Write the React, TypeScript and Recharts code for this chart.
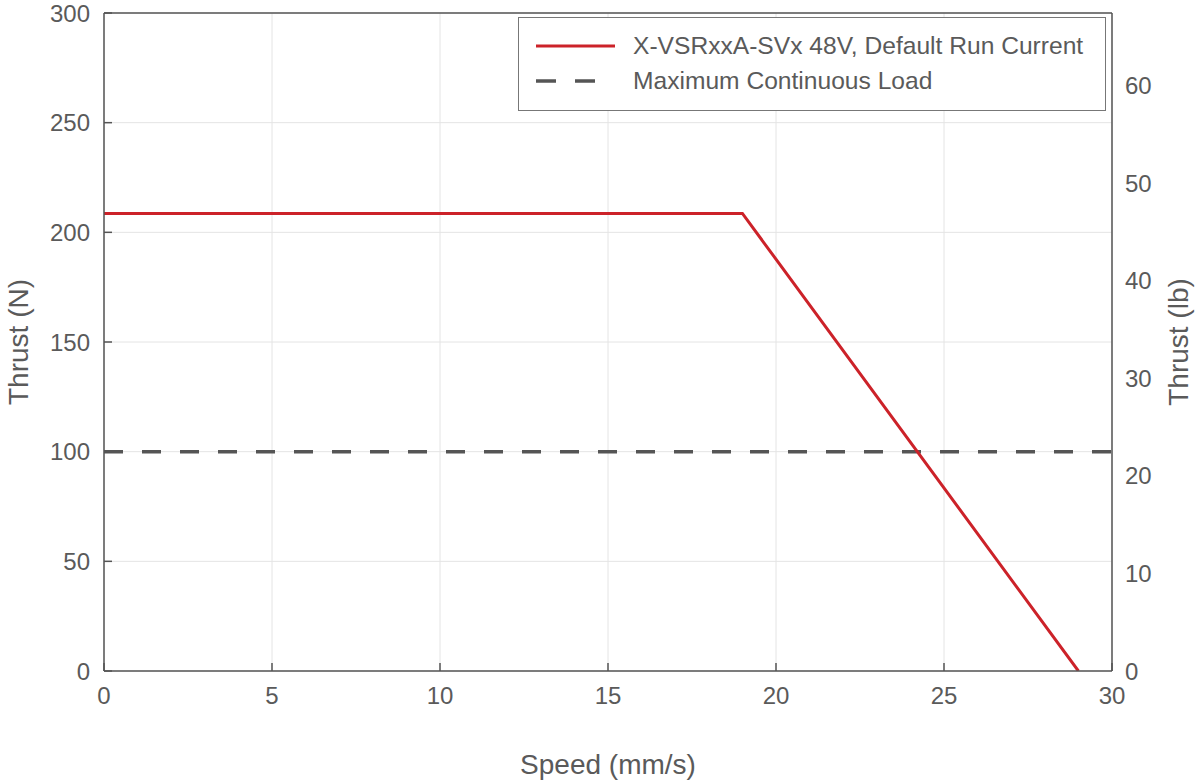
import React from 'react';
import { ComposedChart, Line, XAxis, YAxis, CartesianGrid, Legend, ReferenceLine, Label } from 'recharts';

// --- data ---
const xTicks = [0, 5, 10, 15, 20, 25, 30];
const yTicksN = [0, 50, 100, 150, 200, 250, 300];
const yTicksLb = [0, 10, 20, 30, 40, 50, 60];
const N_TO_LB = 0.224809;

const thrustCurve = [
    { speed: 0, thrust: 208.6 },
    { speed: 19, thrust: 208.6 },
    { speed: 29, thrust: 0 },
];
const maxContinuous = [
    { speed: 0, thrust: 100 },
    { speed: 30, thrust: 100 },
];

const RED = '#cc2229';
const GREY = '#555555';
const TEXT = '#5a5a5a';
const FONT = '"Liberation Sans", Arial, sans-serif';

const LegendBox = () => (
    <div
        style={{
            width: 588,
            height: 94,
            border: '1px solid #777',
            background: '#fff',
            boxSizing: 'border-box',
            fontFamily: FONT,
            fontSize: 24.6,
            color: TEXT,
            position: 'relative',
        }}
    >
        <svg width={100} height={94} style={{ position: 'absolute', left: 0, top: 0 }}>
            <line x1={17} y1={28} x2={96} y2={28} stroke={RED} strokeWidth={3} />
            <line x1={17} y1={63} x2={77} y2={63} stroke={GREY} strokeWidth={3.5} strokeDasharray="20 19" />
        </svg>
        <div style={{ position: 'absolute', left: 114, top: 14, whiteSpace: 'nowrap', lineHeight: '28px' }}>
            X-VSRxxA-SVx 48V, Default Run Current
        </div>
        <div style={{ position: 'absolute', left: 114, top: 49, whiteSpace: 'nowrap', lineHeight: '28px' }}>
            Maximum Continuous Load
        </div>
    </div>
);

export default function App() {
    const tickStyle = { fill: TEXT, fontSize: 24, fontFamily: FONT };
    const titleStyle = { fill: TEXT, fontSize: 28, fontFamily: FONT, textAnchor: 'middle' as const };
    return (
        <div style={{ position: 'fixed', left: 0, top: 0, width: 1195, height: 781, background: '#fff' }}>
            <ComposedChart width={1195} height={781} margin={{ top: 13, right: 0, bottom: 0, left: 0 }}>
                <CartesianGrid yAxisId="n" stroke="#e4e4e4" vertical horizontal />
                <XAxis
                    type="number"
                    dataKey="speed"
                    domain={[0, 30]}
                    ticks={xTicks}
                    allowDataOverflow
                    height={110}
                    tick={tickStyle}
                    tickSize={-8}
                    tickMargin={24}
                    stroke={GREY}
                    strokeWidth={1.5}
                >
                    <Label value="Speed (mm/s)" position="insideBottom" offset={7} style={titleStyle} />
                </XAxis>
                <YAxis
                    yAxisId="n"
                    type="number"
                    domain={[0, 300]}
                    ticks={yTicksN}
                    allowDataOverflow
                    width={104}
                    tick={tickStyle}
                    tickSize={-8}
                    tickMargin={22}
                    stroke={GREY}
                    strokeWidth={1.5}
                >
                    <Label value="Thrust (N)" position="insideLeft" angle={-90} offset={18} style={titleStyle} />
                </YAxis>
                <YAxis
                    yAxisId="lb"
                    orientation="right"
                    type="number"
                    domain={[0, 300 * N_TO_LB]}
                    ticks={yTicksLb}
                    allowDataOverflow
                    width={83}
                    tick={tickStyle}
                    tickLine={false}
                    tickSize={-8}
                    tickMargin={21}
                    stroke={GREY}
                    strokeWidth={1.5}
                >
                    <Label value="Thrust (lb)" position="insideRight" angle={-90} offset={17} style={titleStyle} />
                </YAxis>
                <ReferenceLine yAxisId="n" y={300} stroke={GREY} strokeWidth={1.5} />
                <Line
                    yAxisId="n"
                    data={maxContinuous}
                    dataKey="thrust"
                    type="linear"
                    stroke={GREY}
                    strokeWidth={3.5}
                    strokeDasharray="19 19"
                    dot={false}
                    activeDot={false}
                    isAnimationActive={false}
                />
                <Line
                    yAxisId="n"
                    data={thrustCurve}
                    dataKey="thrust"
                    type="linear"
                    stroke={RED}
                    strokeWidth={3}
                    dot={false}
                    activeDot={false}
                    isAnimationActive={false}
                />
                <Legend
                    layout="vertical"
                    align="center"
                    verticalAlign="middle"
                    content={<LegendBox />}
                    wrapperStyle={{ top: 17, left: 518, width: 588, height: 94 }}
                />
            </ComposedChart>
        </div>
    );
}
